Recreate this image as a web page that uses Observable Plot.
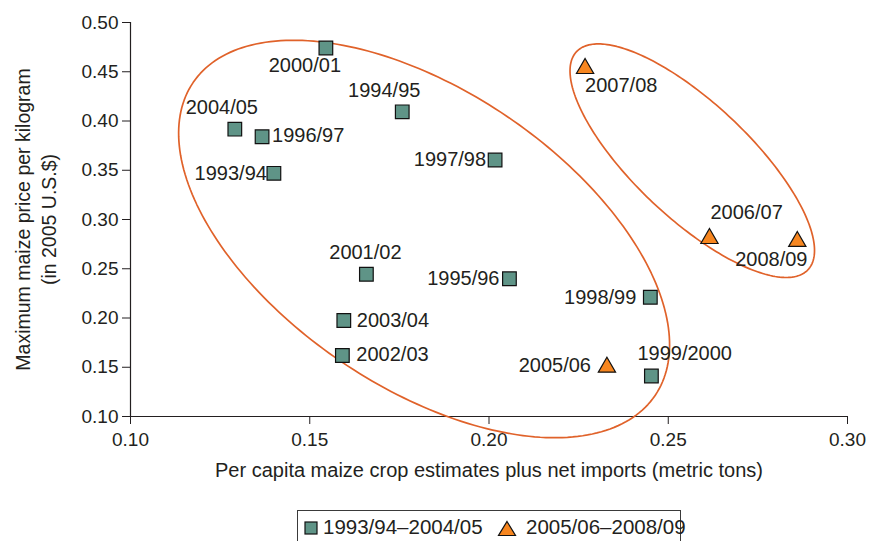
<!DOCTYPE html>
<html><head><meta charset="utf-8">
<script src="https://cdn.jsdelivr.net/npm/d3@7"></script>
<script src="https://cdn.jsdelivr.net/npm/@observablehq/plot@0.6"></script>
<style>
body{margin:0;background:#fff;font-family:"Liberation Sans",Arial,sans-serif;color:#231f20;}
#wrap{position:relative;width:871px;height:541px;overflow:hidden;}
#legend{position:absolute;left:297px;top:510px;width:384px;height:40px;border:1px solid #3a3a3a;border-bottom:none;box-sizing:border-box;font-size:20.5px;}
#legend .it{position:absolute;top:5px;white-space:nowrap;line-height:22px;}
#legend svg{position:absolute;}
</style></head><body>
<div id="wrap"><div id="chart"></div><div id="legend"></div></div>
<script>
// ---- data ----
const seasons = ["1993/94","1994/95","1995/96","1996/97","1997/98","1998/99","1999/2000","2000/01","2001/02","2002/03","2003/04","2004/05","2005/06","2006/07","2007/08","2008/09"];
const supply  = [0.1400,0.1758,0.2057,0.1367,0.2017,0.2450,0.2453,0.1545,0.1658,0.1591,0.1595,0.1291,0.2329,0.2615,0.2268,0.2860];
const price   = [0.3469,0.4093,0.2398,0.3840,0.3604,0.2211,0.1411,0.4741,0.2444,0.1619,0.1975,0.3917,0.1501,0.2807,0.4533,0.2777];
const periods = ["1993/94–2004/05","2005/06–2008/09"];
const periodOf = ["1993/94–2004/05","1993/94–2004/05","1993/94–2004/05","1993/94–2004/05","1993/94–2004/05","1993/94–2004/05","1993/94–2004/05","1993/94–2004/05","1993/94–2004/05","1993/94–2004/05","1993/94–2004/05","1993/94–2004/05","2005/06–2008/09","2005/06–2008/09","2005/06–2008/09","2005/06–2008/09"];
const xTicks = [0.10,0.15,0.20,0.25,0.30];
const yTicks = [0.10,0.15,0.20,0.25,0.30,0.35,0.40,0.45,0.50];
const xTitle = "Per capita maize crop estimates plus net imports (metric tons)";
const yTitle1 = "Maximum maize price per kilogram";
const yTitle2 = "(in 2005 U.S.$)";

// ---- layout ----
const W = 871, H = 500, ML = 130, MR = 24, MT = 22, MB = 84;
const xDom = [0.10, 0.30], yDom = [0.10, 0.50];
const kx = (W - ML - MR) / (xDom[1] - xDom[0]);
const ky = (H - MT - MB) / (yDom[1] - yDom[0]);
const labelLayout = {
  "1993/94": ["end", -7, 0], "1994/95": ["middle", -18, -21], "1995/96": ["end", -10, 0],
  "1996/97": ["start", 10, -1], "1997/98": ["end", -9, 0], "1998/99": ["end", -14, 0],
  "1999/2000": ["start", -14, -22], "2000/01": ["middle", -21, 18], "2001/02": ["middle", -1, -22],
  "2002/03": ["start", 14, -1], "2003/04": ["start", 13, 0], "2004/05": ["middle", -13, -22],
  "2005/06": ["end", -16, -2], "2006/07": ["start", 1, -26], "2007/08": ["start", 0, 17],
  "2008/09": ["middle", -26, 18]
};
// annotation ellipses: centre in data units, semi-axes in px, tilt in degrees (screen)
const ellipses = [
  {cx: 0.1819, cy: 0.2802, a: 279, b: 148, deg: 34.1},
  {cx: 0.2567, cy: 0.3597, a: 159, b: 57.5, deg: 43.3}
];
const sqColor = "#5f9487", triColor = "#f7861f", ringColor = "#e0622a", ink = "#231f20";

const rows = seasons.map((s, i) => ({season: s, x: supply[i], y: price[i], period: periodOf[i]}));
const ringPts = [];
ellipses.forEach((e, k) => {
  const th = e.deg * Math.PI / 180;
  for (let i = 0; i <= 240; i++) {
    const t = 2 * Math.PI * i / 240;
    const px = e.a * Math.cos(t) * Math.cos(th) - e.b * Math.sin(t) * Math.sin(th);
    const py = e.a * Math.cos(t) * Math.sin(th) + e.b * Math.sin(t) * Math.cos(th);
    ringPts.push({k, x: e.cx + px / kx, y: e.cy - py / ky});
  }
});

const labelMarks = rows.map(r => {
  const [anchor, dx, dy] = labelLayout[r.season];
  return Plot.text([r], {x: "x", y: "y", text: "season", textAnchor: anchor, dx, dy, fontSize: 20, fill: ink, lineAnchor: "middle"});
});

const chart = Plot.plot({
  width: W, height: H, marginLeft: ML, marginRight: MR, marginTop: MT, marginBottom: MB,
  x: {domain: xDom}, y: {domain: yDom},
  style: {fontFamily: "Liberation Sans, Arial, sans-serif", color: ink, background: "#fff", overflow: "visible"},
  marks: [
    Plot.axisX({ticks: xTicks, tickFormat: d3.format(".2f"), tickSize: 8, tickPadding: 8, fontSize: 19, label: null, stroke: ink}),
    Plot.axisY({ticks: yTicks, tickFormat: d3.format(".2f"), tickSize: 8, tickPadding: 4, fontSize: 19, label: null, stroke: ink}),
    Plot.ruleX([xDom[0]], {y1: yDom[0], y2: yDom[1], stroke: ink, strokeWidth: 1.2}),
    Plot.ruleY([yDom[0]], {x1: xDom[0], x2: xDom[1], stroke: ink, strokeWidth: 1.2}),
    Plot.text([xTitle], {frameAnchor: "bottom", textAnchor: "middle", dy: 54, fontSize: 20, fill: ink, lineAnchor: "middle"}),
    Plot.text([yTitle1], {frameAnchor: "left", textAnchor: "middle", dx: -107, rotate: -90, fontSize: 19.5, fill: ink, lineAnchor: "middle"}),
    Plot.text([yTitle2], {frameAnchor: "left", textAnchor: "middle", dx: -81, rotate: -90, fontSize: 19.5, fill: ink, lineAnchor: "middle"}),
    Plot.line(ringPts, {x: "x", y: "y", z: "k", stroke: ringColor, strokeWidth: 1.7}),
    Plot.dot(rows.filter(d => d.period === periods[0]), {x: "x", y: "y", symbol: "square", r: 7.7, fill: sqColor, stroke: "#111", strokeWidth: 1.2}),
    Plot.dot(rows.filter(d => d.period === periods[1]), {x: "x", y: "y", symbol: "triangle", r: 6.4, fill: triColor, stroke: "#111", strokeWidth: 1.2}),
    ...labelMarks
  ]
});
document.getElementById("chart").appendChild(chart);

// legend
const lg = document.getElementById("legend");
lg.innerHTML =
  `<svg style="left:6px;top:10px" width="14" height="14"><rect x="1" y="1" width="12" height="12" fill="${sqColor}" stroke="#111" stroke-width="1.2"/></svg>` +
  `<div class="it" style="left:25px">${periods[0]}</div>` +
  `<svg style="left:199px;top:9px" width="20" height="17"><path d="M10,1.5 L18.5,15.5 L1.5,15.5 Z" fill="${triColor}" stroke="#111" stroke-width="1.2"/></svg>` +
  `<div class="it" style="left:228px">${periods[1]}</div>`;
</script>
</body></html>
